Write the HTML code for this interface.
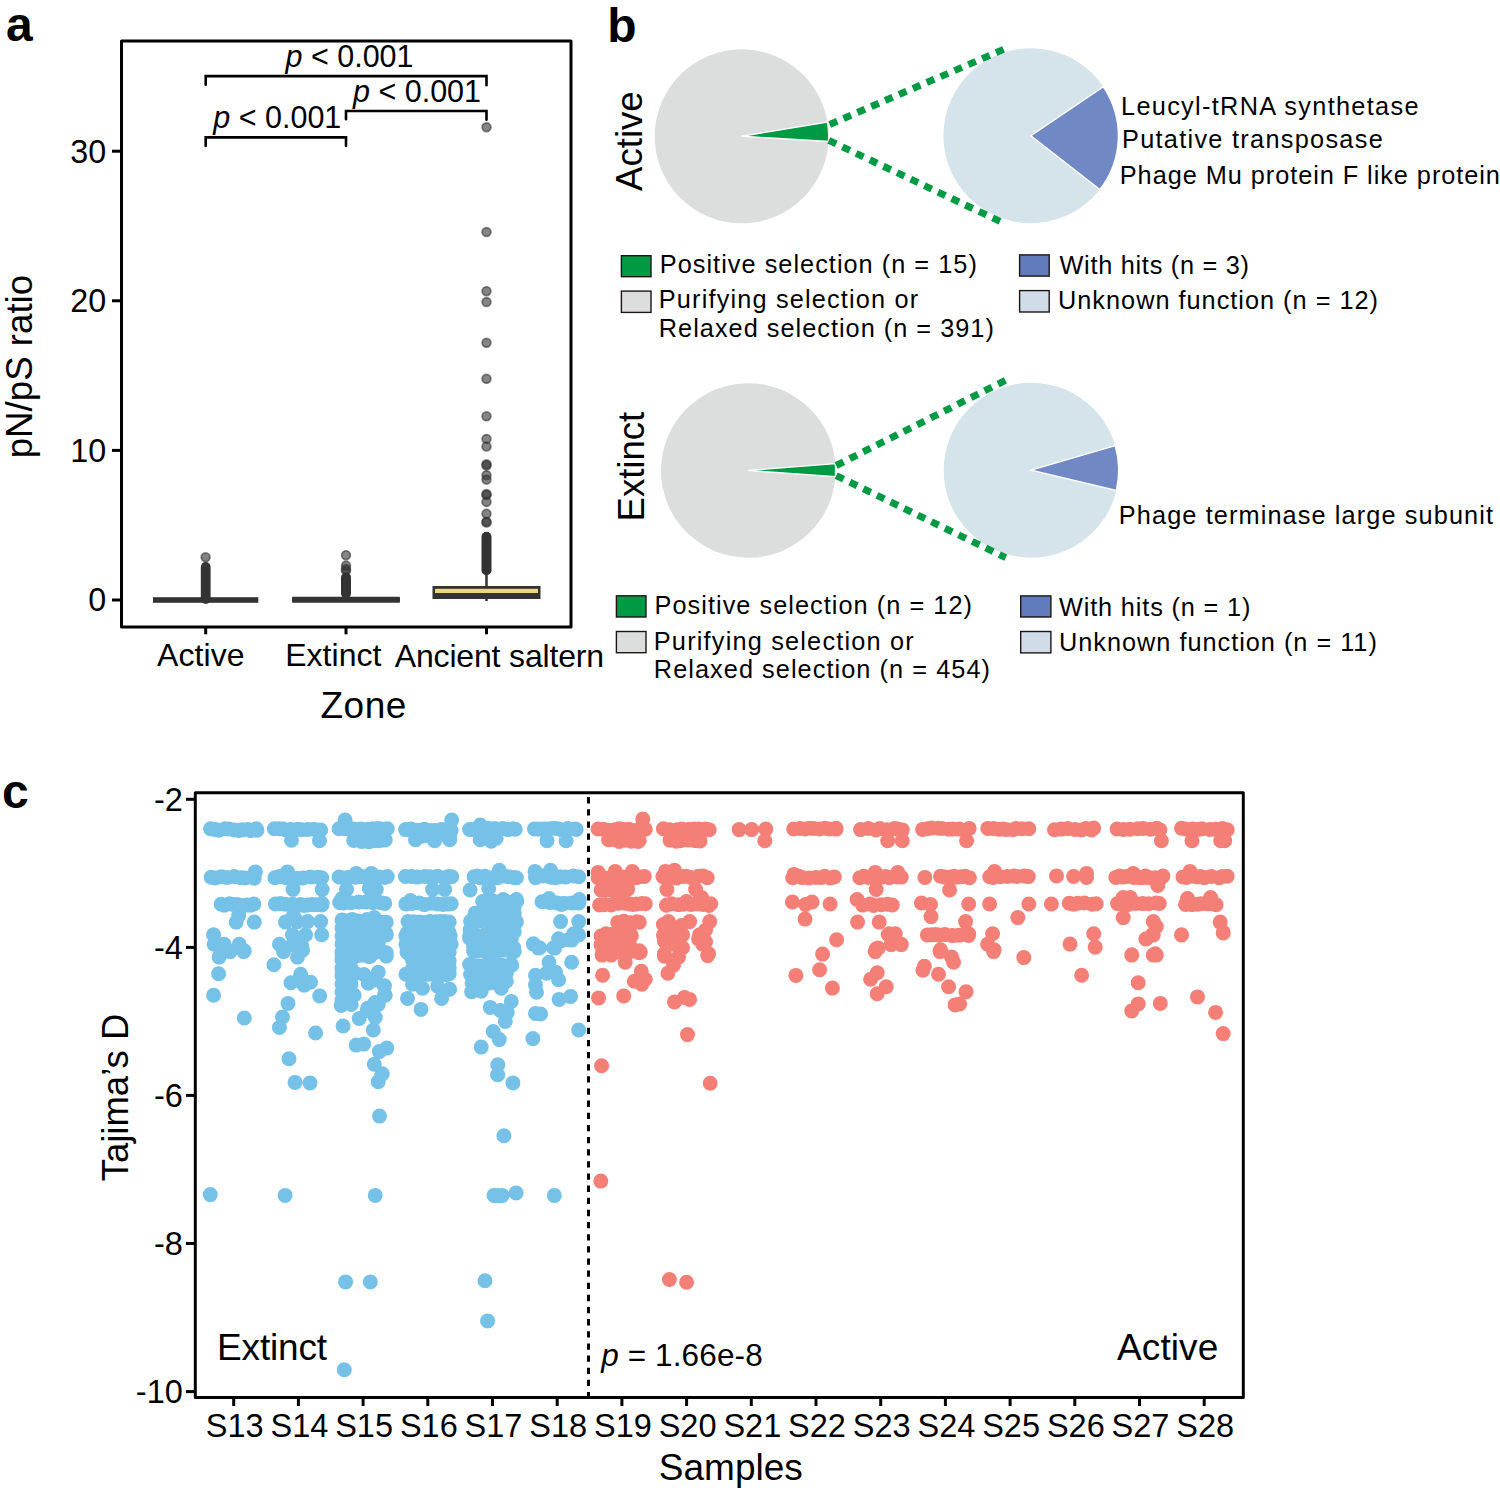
<!DOCTYPE html>
<html><head><meta charset="utf-8"><style>
html,body{margin:0;padding:0;background:#fff;}
svg{display:block;}
text{font-family:"Liberation Sans", sans-serif;fill:#000;}
</style></head><body>
<svg width="1500" height="1492" viewBox="0 0 1500 1492">
<rect width="1500" height="1492" fill="#fff"/>
<text x="6" y="41.3" font-size="48" text-anchor="start" font-weight="bold" >a</text>
<text x="607.3" y="42" font-size="48" text-anchor="start" font-weight="bold" >b</text>
<text x="2" y="808" font-size="48" text-anchor="start" font-weight="bold" >c</text>
<rect x="121.5" y="41" width="449.5" height="586" fill="none" stroke="#000" stroke-width="3" stroke-linejoin="round"/>
<line x1="112" y1="600.0" x2="121" y2="600.0" stroke="#000" stroke-width="3"/>
<text x="106.3" y="611.4" font-size="32.3" text-anchor="end" font-weight="normal" >0</text>
<line x1="112" y1="450.4" x2="121" y2="450.4" stroke="#000" stroke-width="3"/>
<text x="106.3" y="461.79999999999995" font-size="32.3" text-anchor="end" font-weight="normal" >10</text>
<line x1="112" y1="300.8" x2="121" y2="300.8" stroke="#000" stroke-width="3"/>
<text x="106.3" y="312.2" font-size="32.3" text-anchor="end" font-weight="normal" >20</text>
<line x1="112" y1="151.2" x2="121" y2="151.2" stroke="#000" stroke-width="3"/>
<text x="106.3" y="162.6" font-size="32.3" text-anchor="end" font-weight="normal" >30</text>
<line x1="205.7" y1="627" x2="205.7" y2="634.3" stroke="#000" stroke-width="3"/>
<line x1="346" y1="627" x2="346" y2="634.3" stroke="#000" stroke-width="3"/>
<line x1="486.5" y1="627" x2="486.5" y2="634.3" stroke="#000" stroke-width="3"/>
<text id="act_a" x="157.00" y="666.3" font-size="32" textLength="87.54" lengthAdjust="spacing" >Active</text>
<text id="ext_a" x="285.20" y="666.3" font-size="32" textLength="96.23" lengthAdjust="spacing" >Extinct</text>
<text id="anc_a" x="394.80" y="666.5" font-size="32" textLength="209.27" lengthAdjust="spacing" >Ancient saltern</text>
<text id="zone" x="320.40" y="717.5" font-size="37" textLength="86.04" lengthAdjust="spacing" >Zone</text>
<text transform="translate(31.7,366.6) rotate(-90)" font-size="36.7" text-anchor="middle">pN/pS ratio</text>
<path d="M205.7,84.8 V76.1 H486.5 V85.3 M346,119.3 V111 H486.5 V119.8 M205.7,145.9 V137.4 H346 V145.9" fill="none" stroke="#000" stroke-width="2.6" stroke-linecap="round" stroke-linejoin="miter"/>
<text x="349.5" y="67" font-size="30.5" text-anchor="middle"><tspan font-style="italic">p</tspan> &lt; 0.001</text>
<text x="417" y="101.6" font-size="30.5" text-anchor="middle"><tspan font-style="italic">p</tspan> &lt; 0.001</text>
<text x="277.3" y="128.2" font-size="30.5" text-anchor="middle"><tspan font-style="italic">p</tspan> &lt; 0.001</text>
<rect x="153" y="597.2" width="105.3" height="5.6" fill="#333"/>
<rect x="292" y="596.8" width="108" height="6" fill="#333" rx="1"/>
<line x1="486.5" y1="575" x2="486.5" y2="601" stroke="#333" stroke-width="2.5"/>
<rect x="432.5" y="586" width="108" height="13" fill="#333"/>
<rect x="435" y="588.8" width="103" height="4.2" fill="#EBD57F"/>
<circle cx="205.6" cy="557.3" r="4.35" fill="#333" fill-opacity="0.6" stroke="#333" stroke-opacity="0.6" stroke-width="1.8"/>
<rect x="200.8" y="562" width="9.8" height="42" rx="4.9" fill="#333"/>
<circle cx="346" cy="555.2" r="4.35" fill="#333" fill-opacity="0.6" stroke="#333" stroke-opacity="0.6" stroke-width="1.8"/>
<circle cx="346" cy="565.6" r="4.35" fill="#333" fill-opacity="0.6" stroke="#333" stroke-opacity="0.6" stroke-width="1.8"/>
<circle cx="346" cy="569" r="4.35" fill="#333" fill-opacity="0.6" stroke="#333" stroke-opacity="0.6" stroke-width="1.8"/>
<circle cx="346" cy="570.8" r="4.35" fill="#333" fill-opacity="0.6" stroke="#333" stroke-opacity="0.6" stroke-width="1.8"/>
<rect x="341" y="572.5" width="10" height="26" rx="5" fill="#333"/>
<circle cx="486.5" cy="127.2" r="4.35" fill="#333" fill-opacity="0.6" stroke="#333" stroke-opacity="0.6" stroke-width="1.8"/>
<circle cx="486.5" cy="232" r="4.35" fill="#333" fill-opacity="0.6" stroke="#333" stroke-opacity="0.6" stroke-width="1.8"/>
<circle cx="486.5" cy="291.2" r="4.35" fill="#333" fill-opacity="0.6" stroke="#333" stroke-opacity="0.6" stroke-width="1.8"/>
<circle cx="486.5" cy="302" r="4.35" fill="#333" fill-opacity="0.6" stroke="#333" stroke-opacity="0.6" stroke-width="1.8"/>
<circle cx="486.5" cy="342.8" r="4.35" fill="#333" fill-opacity="0.6" stroke="#333" stroke-opacity="0.6" stroke-width="1.8"/>
<circle cx="486.5" cy="378.8" r="4.35" fill="#333" fill-opacity="0.6" stroke="#333" stroke-opacity="0.6" stroke-width="1.8"/>
<circle cx="486.5" cy="416.3" r="4.35" fill="#333" fill-opacity="0.6" stroke="#333" stroke-opacity="0.6" stroke-width="1.8"/>
<circle cx="486.5" cy="438.9" r="4.35" fill="#333" fill-opacity="0.6" stroke="#333" stroke-opacity="0.6" stroke-width="1.8"/>
<circle cx="486.5" cy="446.5" r="4.35" fill="#333" fill-opacity="0.6" stroke="#333" stroke-opacity="0.6" stroke-width="1.8"/>
<circle cx="486.5" cy="464.3" r="4.35" fill="#333" fill-opacity="0.6" stroke="#333" stroke-opacity="0.6" stroke-width="1.8"/>
<circle cx="486.5" cy="465.5" r="4.35" fill="#333" fill-opacity="0.6" stroke="#333" stroke-opacity="0.6" stroke-width="1.8"/>
<circle cx="486.5" cy="475.2" r="4.35" fill="#333" fill-opacity="0.6" stroke="#333" stroke-opacity="0.6" stroke-width="1.8"/>
<circle cx="486.5" cy="479.6" r="4.35" fill="#333" fill-opacity="0.6" stroke="#333" stroke-opacity="0.6" stroke-width="1.8"/>
<circle cx="486.5" cy="494" r="4.35" fill="#333" fill-opacity="0.6" stroke="#333" stroke-opacity="0.6" stroke-width="1.8"/>
<circle cx="486.5" cy="495" r="4.35" fill="#333" fill-opacity="0.6" stroke="#333" stroke-opacity="0.6" stroke-width="1.8"/>
<circle cx="486.5" cy="501.9" r="4.35" fill="#333" fill-opacity="0.6" stroke="#333" stroke-opacity="0.6" stroke-width="1.8"/>
<circle cx="486.5" cy="513.8" r="4.35" fill="#333" fill-opacity="0.6" stroke="#333" stroke-opacity="0.6" stroke-width="1.8"/>
<circle cx="486.5" cy="521.7" r="4.35" fill="#333" fill-opacity="0.6" stroke="#333" stroke-opacity="0.6" stroke-width="1.8"/>
<circle cx="486.5" cy="522.5" r="4.35" fill="#333" fill-opacity="0.6" stroke="#333" stroke-opacity="0.6" stroke-width="1.8"/>
<rect x="481.5" y="531.8" width="10" height="43.4" rx="5" fill="#333"/>
<circle cx="741.7" cy="136.3" r="87" fill="#DCDDDD"/>
<path d="M741.7,136.3 L827.51,121.94 A87,87 0 0 1 828.55,141.46 Z" fill="#009944" stroke="#fff" stroke-width="1.4" stroke-linejoin="miter"/>
<circle cx="1030.9" cy="135.7" r="87.5" fill="#D5E3EB"/>
<path d="M1030.9,135.7 L1103.44,86.77 A87.5,87.5 0 0 1 1099.85,189.57 Z" fill="#7089C4" stroke="#fff" stroke-width="1.4" stroke-linejoin="miter"/>
<circle cx="748.3" cy="470.5" r="87.3" fill="#DCDDDD"/>
<path d="M748.3,470.5 L835.33,463.65 A87.3,87.3 0 0 1 835.39,476.59 Z" fill="#009944" stroke="#fff" stroke-width="1.4" stroke-linejoin="miter"/>
<circle cx="1031.2" cy="470.2" r="87.5" fill="#D5E3EB"/>
<path d="M1031.2,470.2 L1115.18,445.64 A87.5,87.5 0 0 1 1116.32,490.48 Z" fill="#7089C4" stroke="#fff" stroke-width="1.4" stroke-linejoin="miter"/>
<line x1="829.7" y1="124.5" x2="1004" y2="49.2" stroke="#009944" stroke-width="7" stroke-dasharray="8.2 6.9"/>
<line x1="828.8" y1="140.4" x2="1000.4" y2="221.6" stroke="#009944" stroke-width="7" stroke-dasharray="8.2 6.9"/>
<line x1="836.2" y1="465.5" x2="1006.9" y2="379.6" stroke="#009944" stroke-width="7" stroke-dasharray="8.2 6.9"/>
<line x1="836.2" y1="475.6" x2="1005.8" y2="557.7" stroke="#009944" stroke-width="7" stroke-dasharray="8.2 6.9"/>
<text transform="translate(641.7,141.1) rotate(-90)" font-size="36.6" text-anchor="middle">Active</text>
<text transform="translate(644.2,466.6) rotate(-90)" font-size="36.6" text-anchor="middle">Extinct</text>
<text id="leu" x="1121.00" y="115.0" font-size="25.3" textLength="297.47" lengthAdjust="spacing" >Leucyl-tRNA synthetase</text>
<text id="put" x="1122.00" y="148.4" font-size="25.3" textLength="260.75" lengthAdjust="spacing" >Putative transposase</text>
<text id="mu" x="1119.80" y="183.6" font-size="25.3" textLength="380.15" lengthAdjust="spacing" >Phage Mu protein F like protein</text>
<text id="term" x="1118.80" y="524.3" font-size="25.3" textLength="374.24" lengthAdjust="spacing" >Phage terminase large subunit</text>
<rect x="621.40" y="255.70" width="29.60" height="21.00" fill="#009944" stroke="#1e1414" stroke-width="1.4"/>
<text id="pos15" x="659.80" y="273.0" font-size="25.3" textLength="317.06" lengthAdjust="spacing" >Positive selection (n = 15)</text>
<rect x="621.40" y="291.10" width="29.60" height="21.30" fill="#DCDDDD" stroke="#1e1414" stroke-width="1.4"/>
<text id="pur1" x="658.80" y="308.4" font-size="25.3" textLength="259.31" lengthAdjust="spacing" >Purifying selection or</text>
<text id="rel391" x="658.80" y="336.7" font-size="25.3" textLength="335.07" lengthAdjust="spacing" >Relaxed selection (n = 391)</text>
<rect x="1019.60" y="254.90" width="29.60" height="21.20" fill="#627BBC" stroke="#1e1414" stroke-width="1.4"/>
<text id="hits3" x="1059.40" y="273.8" font-size="25.3" textLength="189.64" lengthAdjust="spacing" >With hits (n = 3)</text>
<rect x="1019.60" y="290.60" width="29.60" height="21.40" fill="#D0DDE8" stroke="#1e1414" stroke-width="1.4"/>
<text id="unk12" x="1058.00" y="309.2" font-size="25.3" textLength="320.02" lengthAdjust="spacing" >Unknown function (n = 12)</text>
<rect x="616.40" y="595.80" width="29.60" height="21.20" fill="#009944" stroke="#1e1414" stroke-width="1.4"/>
<text id="pos12" x="654.60" y="614.2" font-size="25.3" textLength="317.36" lengthAdjust="spacing" >Positive selection (n = 12)</text>
<rect x="616.40" y="631.50" width="29.60" height="21.20" fill="#DCDDDD" stroke="#1e1414" stroke-width="1.4"/>
<text id="pur2" x="653.80" y="649.6" font-size="25.3" textLength="259.91" lengthAdjust="spacing" >Purifying selection or</text>
<text id="rel454" x="653.80" y="678.0" font-size="25.3" textLength="336.17" lengthAdjust="spacing" >Relaxed selection (n = 454)</text>
<rect x="1020.70" y="595.90" width="30.20" height="21.10" fill="#627BBC" stroke="#1e1414" stroke-width="1.4"/>
<text id="hits1" x="1059.00" y="615.5" font-size="25.3" textLength="191.44" lengthAdjust="spacing" >With hits (n = 1)</text>
<rect x="1020.70" y="631.50" width="30.20" height="21.40" fill="#D0DDE8" stroke="#1e1414" stroke-width="1.4"/>
<text id="unk11" x="1059.00" y="651.0" font-size="25.3" textLength="317.84" lengthAdjust="spacing" >Unknown function (n = 11)</text>
<path d="M210.6,828.8h0M215.2,829.4h0M219.0,830.3h0M225.2,828.8h0M228.6,829.0h0M234.3,829.9h0M239.1,830.5h0M242.4,829.8h0M247.9,829.4h0M251.1,830.6h0M256.3,828.7h0M257.0,830.3h0M274.4,828.7h0M278.8,828.7h0M282.6,829.0h0M286.2,830.0h0M290.7,829.5h0M297.8,829.2h0M301.7,829.8h0M307.6,829.5h0M313.8,829.2h0M318.6,830.2h0M320.7,830.0h0M291.5,840.2h0M319.5,840.7h0M211.1,877.2h0M215.3,877.9h0M221.2,876.7h0M226.8,877.4h0M234.2,876.5h0M240.8,877.7h0M245.3,877.9h0M253.2,877.5h0M254.3,878.2h0M255.3,871.9h0M274.9,877.7h0M279.5,876.5h0M285.9,877.8h0M291.9,877.7h0M297.8,878.4h0M303.1,878.0h0M310.3,877.0h0M318.0,877.2h0M321.7,877.7h0M287.5,871.9h0M293.0,889.5h0M322.2,889.5h0M221.1,904.3h0M224.2,905.2h0M229.5,903.7h0M233.4,904.4h0M236.9,904.6h0M240.2,905.3h0M247.1,905.1h0M250.7,905.2h0M253.8,904.1h0M275.4,904.0h0M280.5,903.5h0M285.3,904.3h0M292.7,904.2h0M300.5,904.6h0M304.2,905.4h0M308.1,904.9h0M312.3,904.5h0M316.4,904.7h0M321.9,904.9h0M322.2,903.6h0M238.7,915.6h0M236.2,922.1h0M254.3,922.1h0M285.5,922.1h0M293.5,915.6h0M297.5,921.6h0M307.6,921.6h0M320.7,921.6h0M292.5,934.7h0M305.6,934.7h0M321.7,934.7h0M279.4,944.2h0M292.5,944.7h0M301.6,945.8h0M213.6,934.7h0M214.1,944.2h0M224.1,944.2h0M239.2,944.2h0M244.3,950.8h0M219.1,957.1h0M230.2,951.6h0M243.7,951.6h0M218.6,973.7h0M213.6,995.3h0M244.3,1018.0h0M283.5,951.6h0M297.5,957.1h0M302.6,950.1h0M273.9,964.7h0M300.6,974.2h0M291.0,982.8h0M304.1,985.3h0M310.6,982.3h0M319.7,995.9h0M288.0,1003.4h0M282.5,1017.0h0M279.4,1027.5h0M315.6,1033.0h0M289.0,1058.7h0M295.0,1082.4h0M310.0,1082.9h0M378.2,1081.8h0M381.8,1074.3h0M379.5,1116.1h0M210.3,1194.6h0M285.1,1195.4h0M375.2,1195.4h0M494.0,1195.4h0M345.6,1281.9h0M370.3,1281.9h0M485.0,1280.8h0M487.6,1320.9h0M344.3,1369.8h0M339.1,828.7h0M346.6,828.7h0M353.5,829.0h0M360.9,828.9h0M367.9,829.3h0M372.8,828.7h0M377.8,828.6h0M381.3,828.9h0M387.3,828.8h0M345.1,820.1h0M353.7,840.4h0M358.5,839.9h0M361.6,841.4h0M369.0,841.7h0M375.1,840.6h0M378.8,840.7h0M383.1,839.9h0M385.3,839.9h0M339.1,877.0h0M343.8,877.9h0M348.1,877.6h0M355.3,877.3h0M359.1,876.4h0M362.2,876.6h0M370.0,876.2h0M375.6,877.4h0M379.3,877.0h0M385.0,877.5h0M387.3,876.6h0M356.2,873.4h0M371.3,873.4h0M346.6,889.5h0M376.3,889.5h0M369.3,888.4h0M339.6,902.5h0M343.7,903.0h0M350.8,902.7h0M358.7,902.1h0M366.0,902.1h0M373.0,902.6h0M380.1,902.5h0M384.8,903.4h0M342.1,898.5h0M345.6,921.0h0M353.4,921.1h0M358.6,921.0h0M366.3,921.0h0M374.2,921.8h0M382.0,922.4h0M386.3,922.3h0M352.2,919.6h0M367.2,919.6h0M374.3,917.6h0M343.6,934.7h0M352.2,934.7h0M360.2,934.7h0M386.3,934.7h0M368.2,935.7h0M342.1,943.7h0M357.2,943.7h0M369.3,945.8h0M342.1,952.8h0M352.2,952.8h0M362.2,951.8h0M374.3,952.8h0M386.3,952.8h0M405.6,829.6h0M411.0,829.0h0M417.3,830.2h0M424.3,829.3h0M427.7,830.2h0M434.0,830.5h0M441.5,829.4h0M448.4,829.4h0M451.2,830.5h0M451.7,820.1h0M415.5,839.7h0M434.6,840.7h0M449.7,839.7h0M415.5,835.9h0M422.1,836.2h0M426.0,835.5h0M429.6,834.9h0M433.4,835.3h0M440.9,834.5h0M447.9,834.2h0M449.7,836.1h0M405.4,876.5h0M411.6,876.4h0M417.3,877.1h0M424.9,876.4h0M430.1,876.7h0M437.5,876.2h0M444.6,877.7h0M448.7,876.6h0M451.7,876.8h0M432.6,889.5h0M444.7,889.5h0M405.9,903.9h0M411.8,903.4h0M419.3,903.0h0M424.4,904.6h0M432.0,903.3h0M437.5,903.9h0M443.2,904.5h0M448.8,904.1h0M451.2,903.7h0M410.5,900.5h0M408.0,921.6h0M413.6,921.7h0M419.4,922.1h0M426.3,922.4h0M429.8,921.5h0M435.6,921.8h0M439.9,921.6h0M444.2,921.6h0M449.2,922.0h0M407.0,933.2h0M412.3,933.8h0M417.9,934.6h0M423.3,934.4h0M431.0,933.0h0M437.5,932.9h0M444.9,933.6h0M449.2,932.8h0M408.0,943.0h0M412.2,944.5h0M415.6,944.6h0M421.9,943.1h0M428.8,944.6h0M436.3,943.5h0M440.1,943.7h0M446.7,944.7h0M450.7,944.4h0M407.5,952.7h0M411.3,951.8h0M416.5,952.5h0M422.0,953.0h0M426.7,952.8h0M430.7,951.9h0M435.3,953.8h0M441.9,953.4h0M445.0,953.7h0M449.2,952.0h0M343.6,933.3h0M347.9,934.8h0M351.1,934.1h0M358.0,934.4h0M362.4,933.2h0M366.0,933.1h0M371.1,934.4h0M378.7,933.9h0M385.8,933.1h0M386.3,934.9h0M342.1,943.8h0M348.3,944.2h0M355.3,945.0h0M358.7,943.6h0M366.0,943.4h0M369.3,944.2h0M376.6,943.6h0M378.3,943.3h0M386.3,956.1h0M378.3,950.1h0M342.1,956.1h0M345.9,955.5h0M349.2,955.8h0M353.2,955.1h0M357.7,955.6h0M362.3,955.1h0M369.1,956.6h0M370.3,956.2h0M342.1,973.2h0M355.2,973.2h0M342.1,984.3h0M348.1,995.3h0M354.2,995.3h0M341.1,1005.4h0M351.2,1004.4h0M378.3,972.2h0M368.2,983.3h0M384.3,986.3h0M385.3,995.3h0M378.3,1004.4h0M367.2,1010.4h0M359.2,1018.5h0M375.3,1017.5h0M373.3,1030.0h0M343.1,1026.0h0M356.2,1045.1h0M363.7,1044.1h0M379.3,1051.6h0M386.8,1048.1h0M374.3,1064.2h0M382.3,1073.8h0M405.9,935.8h0M409.8,936.0h0M415.2,936.4h0M422.9,937.0h0M426.4,935.7h0M433.5,936.7h0M438.7,936.4h0M444.2,936.3h0M450.2,935.8h0M405.9,944.4h0M410.6,943.7h0M413.9,943.6h0M417.6,943.7h0M420.9,944.0h0M427.6,943.4h0M431.9,944.0h0M435.7,943.6h0M439.1,945.0h0M446.3,945.0h0M451.2,944.2h0M407.0,952.1h0M411.2,951.1h0M419.1,951.6h0M423.6,951.3h0M428.4,951.9h0M431.4,951.2h0M436.3,951.1h0M441.7,951.7h0M447.2,951.6h0M449.2,952.3h0M412.5,959.9h0M418.1,961.2h0M424.9,959.5h0M431.2,960.6h0M437.8,960.5h0M445.2,959.3h0M449.2,960.9h0M412.5,968.9h0M420.0,968.8h0M426.1,968.9h0M432.8,968.4h0M439.8,969.0h0M443.5,968.6h0M449.1,968.6h0M449.2,967.7h0M405.9,974.2h0M409.1,973.2h0M412.7,974.8h0M417.5,974.7h0M421.0,974.2h0M428.2,974.3h0M434.0,974.5h0M440.2,973.3h0M446.3,974.7h0M449.2,973.7h0M412.5,984.3h0M422.5,988.3h0M437.6,986.3h0M449.7,989.3h0M407.5,998.4h0M441.6,998.4h0M421.0,1009.4h0M469.6,829.5h0M473.0,829.6h0M477.3,829.3h0M483.9,829.4h0M488.0,828.3h0M494.7,828.4h0M502.6,828.6h0M508.0,829.6h0M512.9,828.7h0M515.3,829.2h0M480.2,825.1h0M480.2,839.7h0M491.2,841.2h0M496.2,838.2h0M474.1,876.8h0M477.2,876.1h0M480.5,877.7h0M484.8,876.3h0M491.2,877.9h0M497.6,877.8h0M504.0,875.9h0M508.5,876.8h0M514.0,877.5h0M516.4,877.8h0M499.3,870.3h0M470.1,890.0h0M488.7,888.4h0M482.7,901.5h0M487.9,902.4h0M492.3,900.8h0M496.3,902.1h0M504.1,901.5h0M508.1,902.3h0M514.0,901.9h0M516.9,901.0h0M503.3,899.5h0M516.4,899.5h0M514.3,906.5h0M475.1,913.2h0M482.6,914.3h0M488.0,912.6h0M491.1,914.1h0M494.2,914.3h0M499.6,912.8h0M504.9,914.5h0M509.4,914.0h0M513.1,914.4h0M514.3,913.2h0M470.6,921.2h0M475.5,922.5h0M480.4,921.1h0M488.4,921.1h0M494.4,921.6h0M499.2,921.0h0M504.3,921.3h0M508.7,922.5h0M511.9,922.4h0M515.4,922.2h0M516.4,921.9h0M469.6,936.2h0M477.2,936.0h0M484.9,935.3h0M490.6,934.8h0M497.2,936.6h0M500.5,935.0h0M507.1,935.6h0M511.8,935.4h0M473.6,947.1h0M478.1,947.1h0M484.8,947.2h0M492.7,948.6h0M497.0,947.8h0M503.2,947.2h0M507.8,948.6h0M513.5,948.8h0M513.8,947.7h0M470.1,929.7h0M514.3,931.7h0M534.5,828.9h0M538.2,828.9h0M542.2,829.1h0M545.6,828.9h0M550.3,828.8h0M553.8,828.2h0M558.0,828.7h0M562.3,830.0h0M568.1,828.4h0M575.6,829.1h0M576.2,829.4h0M547.0,840.7h0M566.1,840.7h0M535.5,877.6h0M542.8,875.9h0M546.9,876.0h0M551.2,877.3h0M555.5,877.7h0M560.5,876.8h0M565.7,877.1h0M573.5,875.9h0M578.7,876.7h0M535.0,871.4h0M550.5,870.3h0M542.0,901.8h0M549.6,902.5h0M556.8,902.9h0M564.0,903.4h0M571.9,902.9h0M576.1,902.8h0M578.7,903.0h0M549.0,898.5h0M579.2,899.5h0M561.6,904.5h0M560.6,921.6h0M578.7,921.6h0M573.7,933.7h0M568.6,939.7h0M558.6,938.7h0M553.6,947.8h0M533.4,943.7h0M539.5,947.8h0M469.6,938.3h0M474.9,938.5h0M480.6,939.3h0M483.8,939.4h0M490.8,938.2h0M494.9,938.1h0M502.5,939.0h0M508.7,939.2h0M511.3,938.8h0M473.6,951.1h0M477.7,950.6h0M483.7,950.6h0M486.8,952.0h0M491.3,951.5h0M496.6,950.7h0M504.4,950.1h0M510.6,951.1h0M514.3,951.4h0M469.6,964.6h0M474.7,965.8h0M479.0,965.7h0M485.3,965.2h0M492.9,964.6h0M497.1,966.1h0M500.3,964.8h0M504.9,965.8h0M510.0,964.7h0M511.3,964.6h0M470.6,974.5h0M477.4,975.1h0M481.9,973.5h0M489.6,974.0h0M495.1,973.6h0M499.1,975.1h0M503.2,973.5h0M506.3,973.3h0M472.1,983.2h0M475.4,982.0h0M480.4,981.7h0M487.9,983.2h0M495.3,982.8h0M501.9,981.4h0M504.3,982.6h0M506.3,981.3h0M471.6,991.8h0M481.2,991.3h0M501.3,988.3h0M511.8,965.2h0M511.3,934.0h0M470.1,934.0h0M511.3,1001.4h0M490.2,1007.4h0M500.3,1010.4h0M507.3,1012.4h0M505.3,1021.5h0M493.2,1031.5h0M499.3,1039.6h0M481.2,1047.1h0M497.8,1064.7h0M497.8,1074.8h0M533.4,944.1h0M538.5,948.1h0M554.6,948.1h0M560.6,941.1h0M571.6,940.1h0M578.7,935.0h0M549.0,962.2h0M571.6,962.2h0M535.5,975.2h0M546.5,973.2h0M555.6,972.2h0M558.6,979.8h0M535.5,984.8h0M536.5,992.3h0M559.1,999.4h0M570.6,996.4h0M535.5,1013.4h0M540.5,1013.9h0M578.7,1030.0h0M532.9,1038.6h0M497.5,1074.7h0M512.9,1082.9h0M503.9,1135.8h0M497.9,1195.4h0M502.2,1195.4h0M516.1,1192.9h0M554.3,1195.4h0M342.0,920.0h0M342.0,928.0h0M342.0,936.0h0M342.0,944.0h0M342.0,952.0h0M342.0,960.0h0M342.0,968.0h0M342.0,976.0h0M342.0,984.0h0M342.0,992.0h0M342.0,1000.0h0M351.0,920.0h0M351.0,928.0h0M351.0,936.0h0M351.0,944.0h0M351.0,952.0h0M351.0,960.0h0M351.0,968.0h0M351.0,976.0h0M351.0,984.0h0M351.0,992.0h0M351.0,1000.0h0M363.9,974.5h0M375.1,980.1h0M384.5,985.7h0M384.5,995.1h0M375.1,1002.6h0M367.6,1008.2h0" stroke="#75C1E7" stroke-width="15.0" stroke-linecap="round" fill="none"/>
<path d="M213.6,829.6H254.0M277.4,829.6H317.7M214.1,877.4H251.3M277.9,877.4H318.7M224.1,904.5H250.8M278.4,904.5H319.2M342.1,829.6H384.3M356.7,840.7H382.3M342.1,876.9H384.3M342.6,903.0H381.8M348.6,921.6H383.3M408.6,829.6H448.2M418.5,835.2H446.7M408.4,876.9H448.7M408.9,904.0H448.2M411.0,921.6H446.2M410.0,933.7H446.2M411.0,943.7H447.7M410.5,952.8H446.2M346.6,934.0H383.3M345.1,944.1H375.3M345.1,956.1H367.3M408.9,936.0H447.2M408.9,944.1H448.2M410.0,952.1H446.2M415.5,960.2H446.2M415.5,968.2H446.2M408.9,974.2H446.2M472.6,829.1H512.3M477.1,876.9H513.4M485.7,901.5H513.9M478.1,913.6H511.29999999999995M473.6,921.6H513.4M472.6,935.7H508.8M476.6,947.8H510.79999999999995M537.5,829.1H573.2M538.5,876.9H575.7M545.0,902.5H575.7M472.6,939.0H508.3M476.6,951.1H511.29999999999995M472.6,965.2H508.3M473.6,974.2H503.3M475.1,982.3H501.3" stroke="#75C1E7" stroke-width="12.0" stroke-linecap="round" fill="none"/>
<path d="M710.2,1083.3h0M600.8,1181.1h0M669.4,1279.5h0M686.6,1282.3h0M598.1,829.0h0M603.0,829.3h0M607.9,830.2h0M612.5,830.2h0M616.4,829.5h0M619.4,828.7h0M623.8,829.5h0M628.5,829.3h0M636.3,830.4h0M639.9,829.0h0M645.3,829.3h0M642.8,819.1h0M608.6,839.8h0M616.1,839.8h0M619.2,841.5h0M624.3,840.2h0M631.3,841.2h0M638.2,841.5h0M639.3,840.4h0M598.1,877.7h0M602.5,877.2h0M610.3,877.8h0M616.3,875.9h0M620.6,876.4h0M627.2,876.9h0M631.8,877.8h0M636.2,877.8h0M639.2,876.7h0M644.3,876.4h0M598.1,872.4h0M615.2,871.4h0M632.3,871.4h0M601.1,890.0h0M606.2,890.1h0M611.7,890.0h0M619.4,889.7h0M623.3,889.2h0M627.7,889.1h0M599.6,905.0h0M604.4,904.8h0M611.3,905.0h0M614.7,903.5h0M618.7,903.2h0M625.5,903.2h0M629.7,904.0h0M633.0,904.4h0M636.2,903.9h0M642.0,903.5h0M645.3,903.8h0M617.7,922.4h0M623.8,921.3h0M630.2,922.8h0M636.9,921.7h0M639.3,922.2h0M606.1,933.7h0M630.2,933.7h0M601.1,944.5h0M606.0,943.9h0M612.7,943.4h0M616.7,943.5h0M620.9,944.7h0M625.1,943.7h0M628.2,943.2h0M639.3,950.8h0M602.6,952.5h0M609.6,952.6h0M615.9,950.9h0M623.9,951.4h0M627.4,951.0h0M632.7,951.2h0M639.3,952.7h0M663.4,828.8h0M669.3,829.8h0M677.0,829.8h0M681.8,829.0h0M689.2,829.3h0M694.4,828.9h0M698.7,829.0h0M705.6,829.1h0M709.2,829.8h0M670.0,840.1h0M676.3,841.3h0M680.3,840.8h0M683.3,839.8h0M688.0,839.9h0M694.4,840.5h0M698.3,840.8h0M700.1,841.0h0M662.9,876.6h0M666.4,876.7h0M670.2,877.6h0M676.7,877.9h0M681.7,876.6h0M686.1,876.3h0M690.7,877.4h0M698.4,876.3h0M703.0,875.9h0M707.2,877.7h0M665.4,871.4h0M674.5,870.3h0M666.9,889.5h0M695.6,889.5h0M666.4,905.3h0M671.5,903.7h0M678.6,904.7h0M683.7,904.2h0M691.1,904.5h0M696.4,903.8h0M700.2,904.1h0M703.3,904.5h0M709.0,905.4h0M710.7,903.7h0M686.5,901.5h0M701.6,897.5h0M668.4,921.6h0M663.4,924.6h0M689.6,921.6h0M709.7,921.6h0M665.4,934.7h0M677.5,932.7h0M681.5,925.6h0M699.6,934.7h0M705.6,941.7h0M675.5,944.7h0M682.5,947.8h0M664.4,953.8h0M708.7,953.8h0M601.1,936.0h0M606.6,935.0h0M613.6,934.1h0M621.4,935.9h0M625.4,934.8h0M629.0,935.8h0M631.2,935.2h0M601.1,944.8h0M608.2,943.5h0M612.0,943.5h0M619.0,943.9h0M623.1,944.1h0M628.1,943.9h0M629.2,943.3h0M602.1,955.1h0M611.1,955.1h0M625.2,962.2h0M640.3,952.1h0M631.2,936.0h0M610.1,951.2h0M614.3,952.2h0M621.0,952.6h0M627.2,951.2h0M602.6,975.2h0M641.3,971.2h0M634.3,981.3h0M645.3,979.3h0M641.8,984.3h0M598.6,997.9h0M623.7,995.9h0M601.6,1065.7h0M663.4,935.3h0M670.6,934.6h0M674.2,934.8h0M680.2,935.2h0M682.5,934.9h0M664.4,941.1h0M681.5,948.1h0M664.4,956.1h0M678.5,957.1h0M673.5,965.2h0M667.9,973.2h0M698.6,939.0h0M702.6,944.1h0M707.7,955.6h0M705.6,930.0h0M674.5,1001.9h0M684.5,997.4h0M689.6,999.4h0M687.5,1034.6h0M739.1,829.6h0M751.7,829.6h0M765.8,829.1h0M764.8,840.7h0M793.7,829.0h0M800.0,828.5h0M805.2,829.0h0M810.4,828.3h0M813.5,828.4h0M819.6,829.0h0M825.1,828.3h0M829.3,829.0h0M836.1,829.1h0M836.1,828.2h0M792.7,877.8h0M798.9,876.2h0M802.3,877.6h0M809.0,877.9h0M815.8,877.4h0M821.4,877.5h0M824.7,876.3h0M830.2,877.9h0M834.3,876.9h0M793.9,874.4h0M792.4,902.0h0M805.5,904.5h0M812.0,902.0h0M830.1,904.0h0M805.0,919.1h0M836.6,939.7h0M822.6,954.1h0M819.6,969.7h0M795.9,975.4h0M832.4,988.1h0M860.6,829.6h0M868.4,828.4h0M876.0,829.9h0M879.8,828.6h0M886.7,829.7h0M894.4,828.4h0M897.7,829.1h0M902.3,829.9h0M887.7,840.7h0M902.3,840.7h0M859.8,877.7h0M863.8,876.2h0M868.2,877.5h0M873.7,876.1h0M878.3,877.0h0M881.5,877.2h0M885.4,876.6h0M889.2,877.6h0M896.9,877.0h0M901.3,877.1h0M875.2,872.4h0M897.8,872.4h0M876.2,889.5h0M857.1,899.5h0M862.6,905.1h0M870.0,904.0h0M873.5,905.5h0M881.5,904.7h0M887.6,904.2h0M892.3,905.0h0M857.6,922.1h0M879.2,922.1h0M889.2,933.7h0M895.3,933.7h0M901.3,944.2h0M891.2,944.7h0M876.2,948.8h0M922.6,829.4h0M927.8,828.7h0M931.7,828.1h0M938.4,828.2h0M941.7,828.4h0M948.8,829.3h0M953.0,829.0h0M959.2,829.1h0M967.1,829.9h0M969.2,828.4h0M966.6,840.7h0M924.9,877.4h0M940.5,876.3h0M944.6,877.1h0M950.9,877.1h0M954.0,876.3h0M957.0,877.1h0M961.8,876.8h0M965.3,876.2h0M969.4,877.8h0M949.6,890.0h0M921.4,903.0h0M930.5,904.5h0M931.0,916.6h0M968.7,904.0h0M965.6,921.6h0M927.4,935.0h0M931.6,934.8h0M935.4,934.4h0M938.8,935.0h0M945.0,934.6h0M952.4,935.6h0M959.3,935.2h0M964.3,934.2h0M968.6,935.5h0M968.7,933.8h0M940.5,949.8h0M888.2,934.5h0M891.2,944.6h0M901.3,944.6h0M878.2,948.1h0M875.2,951.6h0M877.2,972.7h0M870.6,979.3h0M886.2,986.8h0M877.2,993.8h0M940.0,951.6h0M951.6,957.1h0M953.6,962.2h0M924.4,966.2h0M922.9,970.2h0M938.5,974.2h0M948.6,986.8h0M966.1,991.8h0M959.6,1003.9h0M955.1,1004.9h0M987.8,828.4h0M993.5,828.5h0M998.5,829.3h0M1002.7,829.1h0M1006.0,829.4h0M1012.9,829.7h0M1015.9,828.4h0M1021.7,828.7h0M1028.8,828.7h0M989.8,876.8h0M993.0,877.4h0M1000.5,876.8h0M1007.4,876.4h0M1014.0,876.1h0M1017.0,876.4h0M1024.2,876.0h0M1028.3,876.6h0M994.6,871.4h0M989.6,904.0h0M1028.8,904.0h0M1017.8,917.6h0M992.6,933.7h0M987.6,944.2h0M994.1,949.8h0M1054.5,829.7h0M1061.2,829.1h0M1067.7,828.6h0M1075.0,829.4h0M1081.5,830.0h0M1085.8,828.5h0M1091.6,829.9h0M1093.7,828.1h0M1056.5,875.9h0M1073.6,876.4h0M1086.6,873.4h0M1086.6,877.4h0M1051.4,904.0h0M1069.2,903.2h0M1073.5,904.3h0M1077.7,903.2h0M1084.4,903.0h0M1092.1,904.3h0M1096.2,903.8h0M1093.7,933.7h0M1070.0,944.2h0M1095.2,947.3h0M993.6,951.6h0M1023.8,957.6h0M1070.0,944.1h0M1095.2,947.1h0M1081.6,975.2h0M1117.1,829.0h0M1123.6,829.5h0M1129.9,829.2h0M1137.8,828.7h0M1143.1,828.5h0M1150.3,829.3h0M1156.8,828.3h0M1159.8,829.9h0M1161.4,840.7h0M1115.8,877.4h0M1119.5,876.0h0M1122.7,877.1h0M1126.2,876.6h0M1133.8,877.5h0M1138.6,877.5h0M1142.3,877.7h0M1145.4,876.0h0M1148.6,877.6h0M1155.1,877.7h0M1161.3,877.8h0M1162.9,876.1h0M1133.2,873.4h0M1157.8,885.4h0M1117.6,903.6h0M1121.6,903.2h0M1125.2,903.2h0M1128.4,904.5h0M1135.6,903.4h0M1142.7,903.6h0M1148.8,903.8h0M1156.0,903.0h0M1159.3,903.5h0M1123.2,897.5h0M1130.2,897.5h0M1123.2,917.6h0M1153.3,921.6h0M1156.3,926.6h0M1146.3,938.7h0M1152.3,934.7h0M1131.7,954.8h0M1155.3,953.8h0M1181.5,828.2h0M1185.9,828.9h0M1192.5,829.0h0M1197.3,829.6h0M1201.9,828.8h0M1209.8,829.5h0M1215.3,829.2h0M1222.5,828.5h0M1227.2,829.8h0M1192.0,840.7h0M1220.7,840.7h0M1224.7,840.7h0M1183.0,876.9h0M1186.5,877.5h0M1193.6,876.3h0M1197.4,876.9h0M1200.4,876.6h0M1204.4,877.6h0M1211.2,876.4h0M1219.1,877.8h0M1222.1,876.5h0M1227.2,876.3h0M1190.0,871.4h0M1185.5,904.4h0M1192.0,904.6h0M1197.5,904.3h0M1201.0,903.7h0M1207.2,903.8h0M1210.6,903.8h0M1216.1,904.8h0M1187.5,898.5h0M1210.6,897.5h0M1220.2,922.1h0M1223.2,932.2h0M1181.5,934.7h0M1145.8,939.0h0M1153.3,935.0h0M1131.7,955.1h0M1153.3,955.1h0M1156.3,955.1h0M1138.2,982.8h0M1138.2,1003.9h0M1131.7,1010.9h0M1160.3,1003.4h0M1181.5,935.0h0M1223.2,933.0h0M1197.5,996.9h0M1215.6,1012.4h0M1223.2,1033.6h0" stroke="#F37F77" stroke-width="15.0" stroke-linecap="round" fill="none"/>
<path d="M601.1,829.6H642.3M611.6,840.7H636.3M601.1,876.9H641.3M604.1,889.5H624.7M602.6,904.0H642.3M620.7,922.1H636.3M604.1,943.7H625.2M605.6,951.8H636.3M666.4,829.6H706.2M673.0,840.7H697.1M665.9,876.9H704.2M669.4,904.5H707.7M604.1,935.0H628.2M604.1,944.1H626.2M613.1,952.1H624.2M666.4,935.0H679.5M796.7,829.1H833.1M795.7,876.9H831.3M863.6,829.1H899.3M862.8,876.9H898.3M865.6,904.5H889.3M925.6,829.1H966.2M943.5,876.9H966.4M930.4,934.7H965.7M990.8,829.1H1025.8M992.8,876.9H1025.3M1057.5,829.1H1090.7M1072.2,903.5H1093.2M1120.1,829.1H1156.8M1118.8,876.9H1159.9M1120.6,904.0H1156.3M1184.5,829.1H1224.2M1186.0,876.9H1224.2M1188.5,904.0H1213.1" stroke="#F37F77" stroke-width="12.0" stroke-linecap="round" fill="none"/>
<line x1="588.5" y1="797.1" x2="588.5" y2="1396" stroke="#000" stroke-width="3" stroke-dasharray="6.3 5.84"/>
<rect x="195.3" y="792.7" width="1048" height="604.8" fill="none" stroke="#000" stroke-width="3" stroke-linejoin="round"/>
<line x1="186" y1="799.3" x2="195" y2="799.3" stroke="#000" stroke-width="3"/>
<text x="182.8" y="810.7" font-size="32.5" text-anchor="end">-2</text>
<line x1="186" y1="947.4" x2="195" y2="947.4" stroke="#000" stroke-width="3"/>
<text x="182.8" y="958.8" font-size="32.5" text-anchor="end">-4</text>
<line x1="186" y1="1095.4" x2="195" y2="1095.4" stroke="#000" stroke-width="3"/>
<text x="182.8" y="1106.8" font-size="32.5" text-anchor="end">-6</text>
<line x1="186" y1="1243.5" x2="195" y2="1243.5" stroke="#000" stroke-width="3"/>
<text x="182.8" y="1254.9" font-size="32.5" text-anchor="end">-8</text>
<line x1="186" y1="1391.6" x2="195" y2="1391.6" stroke="#000" stroke-width="3"/>
<text x="182.8" y="1403.0" font-size="32.5" text-anchor="end">-10</text>
<line x1="233.7" y1="1397" x2="233.7" y2="1406" stroke="#000" stroke-width="3"/>
<text x="234.7" y="1437.1" font-size="32.5" text-anchor="middle">S13</text>
<line x1="298.4" y1="1397" x2="298.4" y2="1406" stroke="#000" stroke-width="3"/>
<text x="299.4" y="1437.1" font-size="32.5" text-anchor="middle">S14</text>
<line x1="363.1" y1="1397" x2="363.1" y2="1406" stroke="#000" stroke-width="3"/>
<text x="364.1" y="1437.1" font-size="32.5" text-anchor="middle">S15</text>
<line x1="427.8" y1="1397" x2="427.8" y2="1406" stroke="#000" stroke-width="3"/>
<text x="428.8" y="1437.1" font-size="32.5" text-anchor="middle">S16</text>
<line x1="492.5" y1="1397" x2="492.5" y2="1406" stroke="#000" stroke-width="3"/>
<text x="493.5" y="1437.1" font-size="32.5" text-anchor="middle">S17</text>
<line x1="557.2" y1="1397" x2="557.2" y2="1406" stroke="#000" stroke-width="3"/>
<text x="558.2" y="1437.1" font-size="32.5" text-anchor="middle">S18</text>
<line x1="621.9" y1="1397" x2="621.9" y2="1406" stroke="#000" stroke-width="3"/>
<text x="622.9" y="1437.1" font-size="32.5" text-anchor="middle">S19</text>
<line x1="686.6" y1="1397" x2="686.6" y2="1406" stroke="#000" stroke-width="3"/>
<text x="687.6" y="1437.1" font-size="32.5" text-anchor="middle">S20</text>
<line x1="751.3" y1="1397" x2="751.3" y2="1406" stroke="#000" stroke-width="3"/>
<text x="752.3" y="1437.1" font-size="32.5" text-anchor="middle">S21</text>
<line x1="816.0" y1="1397" x2="816.0" y2="1406" stroke="#000" stroke-width="3"/>
<text x="817.0" y="1437.1" font-size="32.5" text-anchor="middle">S22</text>
<line x1="880.7" y1="1397" x2="880.7" y2="1406" stroke="#000" stroke-width="3"/>
<text x="881.7" y="1437.1" font-size="32.5" text-anchor="middle">S23</text>
<line x1="945.4" y1="1397" x2="945.4" y2="1406" stroke="#000" stroke-width="3"/>
<text x="946.4" y="1437.1" font-size="32.5" text-anchor="middle">S24</text>
<line x1="1010.1" y1="1397" x2="1010.1" y2="1406" stroke="#000" stroke-width="3"/>
<text x="1011.1" y="1437.1" font-size="32.5" text-anchor="middle">S25</text>
<line x1="1074.8" y1="1397" x2="1074.8" y2="1406" stroke="#000" stroke-width="3"/>
<text x="1075.8" y="1437.1" font-size="32.5" text-anchor="middle">S26</text>
<line x1="1139.5" y1="1397" x2="1139.5" y2="1406" stroke="#000" stroke-width="3"/>
<text x="1140.5" y="1437.1" font-size="32.5" text-anchor="middle">S27</text>
<line x1="1204.2" y1="1397" x2="1204.2" y2="1406" stroke="#000" stroke-width="3"/>
<text x="1205.2" y="1437.1" font-size="32.5" text-anchor="middle">S28</text>
<text id="samples" x="658.80" y="1480" font-size="37" textLength="143.95" lengthAdjust="spacing" >Samples</text>
<text transform="translate(127.8,1097.5) rotate(-90)" font-size="36.5" text-anchor="middle">Tajima’s D</text>
<text id="ext_c" x="217.00" y="1360" font-size="37" textLength="110.15" lengthAdjust="spacing" >Extinct</text>
<text id="pval" x="601.20" y="1366" font-size="31.5" textLength="161.47" lengthAdjust="spacing" ><tspan font-style="italic">p</tspan> = 1.66e-8</text>
<text id="act_c" x="1117.00" y="1360" font-size="37" textLength="101.27" lengthAdjust="spacing" >Active</text>
</svg></body></html>
